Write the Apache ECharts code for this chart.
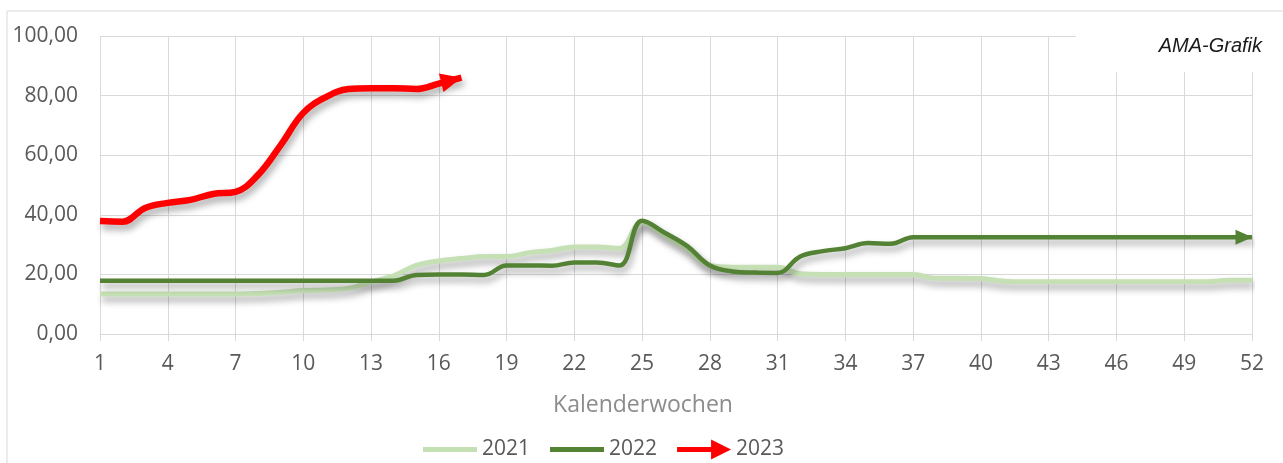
<!DOCTYPE html>
<html>
<head>
<meta charset="utf-8">
<script src="https://cdn.jsdelivr.net/npm/echarts@6/dist/echarts.min.js"></script>
<style>
  html, body { margin: 0; padding: 0; background: #fff; }
  #mainCanvas { width: 1283px; height: 463px; }
</style>
</head>
<body>
<div id="mainCanvas"></div>
<script>
var myChart = echarts.init(document.getElementById("mainCanvas"));

// Kalenderwochen 1..52
var weeks = [];
for (var w = 1; w <= 52; w++) { weeks.push(String(w)); }

var yTicks = [0, 20, 40, 60, 80, 100];

var data2021 = [13.4, 13.4, 13.4, 13.4, 13.4, 13.4, 13.4, 13.6, 14, 14.6, 14.8, 15.3, 17.5, 19.5,
    23, 24.5, 25.3, 26, 26, 27.3, 28, 29.2, 29.2, 28.7, 37.5, 33, 28.5, 23, 22.4, 22.4, 22.4,
    20.2, 20, 20, 20, 20, 20, 18.7, 18.7, 18.6, 17.7, 17.5, 17.5, 17.5, 17.5, 17.5, 17.5, 17.5,
    17.5, 17.5, 18, 18];
var data2022 = [17.9, 17.9, 17.9, 17.9, 17.9, 17.9, 17.9, 17.9, 17.9, 17.9, 17.9, 17.9, 17.9, 17.9,
    19.8, 20, 20, 19.8, 23, 23, 22.9, 24, 24, 23, 38, 34, 29.5, 23, 21, 20.6, 20.5,
    26, 27.8, 28.8, 30.5, 30.3, 32.5, 32.5, 32.5, 32.5, 32.5, 32.5, 32.5, 32.5, 32.5, 32.5,
    32.5, 32.5, 32.5, 32.5, 32.5, 32.5];
var data2023 = [37.9, 37.7, 42.3, 44, 45, 47, 47.7, 53.4, 63.4, 74.2, 79.5, 82.2, 82.5, 82.5, 82.2, 84, 86];

var shadow = { shadowColor: 'rgba(0,0,0,0.35)', shadowBlur: 7, shadowOffsetX: 2, shadowOffsetY: 5 };

// letzter Punkt bekommt eine Pfeilspitze
function withArrow(arr, opts) {
    var out = arr.slice(0, arr.length - 1);
    out.push(Object.assign({ value: arr[arr.length - 1] }, opts));
    return out;
}

var option = {
    animation: false,
    textStyle: { fontFamily: 'Open Sans' },
    grid: { left: 100, right: 31, top: 36, bottom: 129 },
    legend: {
        top: 434,
        left: 418,
        itemWidth: 54,
        itemHeight: 20,
        itemGap: 20,
        textStyle: { color: '#595959', fontSize: 21, fontFamily: 'Open Sans' },
        data: [
            { name: '2021', icon: 'path://M0,7.5 L54,7.5 L54,12.5 L0,12.5 Z M0,0 L0.01,0 M0,20 L0.01,20' },
            { name: '2022', icon: 'path://M0,7.5 L54,7.5 L54,12.5 L0,12.5 Z M0,0 L0.01,0 M0,20 L0.01,20' },
            { name: '2023', icon: 'path://M0,7.5 L34,7.5 L34,0 L54,10 L34,20 L34,12.5 L0,12.5 Z' }
        ]
    },
    xAxis: {
        type: 'category',
        data: weeks,
        boundaryGap: false,
        name: 'Kalenderwochen',
        nameLocation: 'middle',
        nameGap: 60,
        nameTextStyle: { color: '#8c8c8c', fontSize: 23, padding: [0, 66, 0, 0] },
        axisLine: { lineStyle: { color: '#d9d9d9' } },
        axisTick: { interval: 2, length: 7, lineStyle: { color: '#d9d9d9' } },
        axisLabel: { interval: 2, color: '#595959', fontSize: 21, margin: 20 },
        splitLine: { show: true, interval: 2, lineStyle: { color: '#d9d9d9' } }
    },
    yAxis: {
        type: 'value',
        min: yTicks[0],
        max: yTicks[yTicks.length - 1],
        interval: 20,
        axisLine: { show: false },
        axisTick: { show: false },
        axisLabel: {
            color: '#595959', fontSize: 21, margin: 22,
            formatter: function (v) { return v.toFixed(2).replace('.', ','); }
        },
        splitLine: { lineStyle: { color: '#d9d9d9' } }
    },
    series: [
        {
            name: '2021', type: 'line', data: data2021, smooth: 0.4,
            symbol: 'none', z: 2,
            itemStyle: { color: '#c5e0b4' },
            lineStyle: Object.assign({ color: '#c5e0b4', width: 5 }, shadow)
        },
        {
            name: '2022', type: 'line', smooth: 0.4, symbol: 'none', showSymbol: true, z: 3,
            data: withArrow(data2022, { symbol: 'triangle', symbolSize: [15, 17], symbolRotate: -90, symbolOffset: [-8, 0] }),
            itemStyle: { color: '#548235' },
            lineStyle: Object.assign({ color: '#548235', width: 4.5 }, shadow)
        },
        {
            name: '2023', type: 'line', smooth: 0.4, symbol: 'none', showSymbol: true, z: 4,
            data: withArrow(data2023, { symbol: 'triangle', symbolSize: [19, 21], symbolRotate: -76, symbolOffset: [-10, 2.5] }),
            itemStyle: { color: '#ff0000' },
            lineStyle: Object.assign({ color: '#ff0000', width: 6.5 }, shadow)
        }
    ],
    graphic: [
        { type: 'line', shape: { x1: 7, y1: 11, x2: 1283, y2: 11 }, style: { stroke: '#d9d9d9', lineWidth: 1 } },
        { type: 'line', shape: { x1: 7, y1: 11, x2: 7, y2: 463 }, style: { stroke: '#d9d9d9', lineWidth: 1 } },
        { type: 'rect', z: 100, shape: { x: 1076, y: 26, width: 207, height: 46 }, style: { fill: '#fff' } },
        {
            type: 'text', z: 101, right: 21, top: 36,
            style: { text: 'AMA-Grafik', fill: '#1a1a1a', font: 'italic 20px "Liberation Sans", Arial' }
        }
    ]
};

myChart.setOption(option);
</script>
</body>
</html>
